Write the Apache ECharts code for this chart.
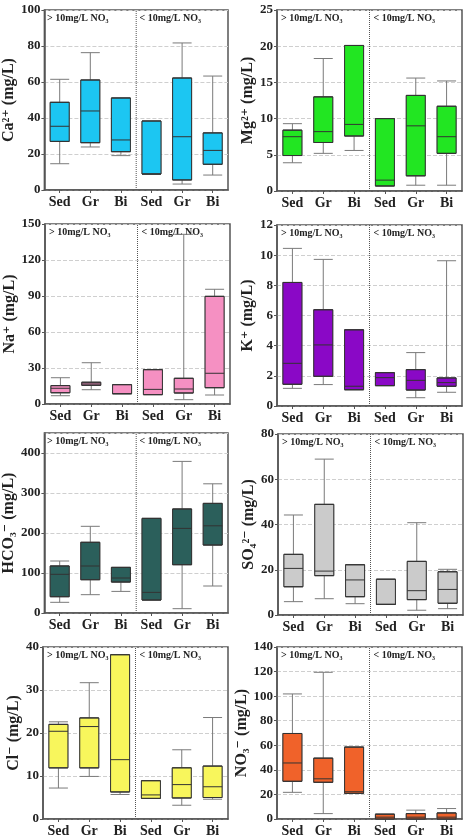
<!DOCTYPE html>
<html>
<head>
<meta charset="utf-8">
<script src="https://cdn.jsdelivr.net/npm/echarts@6/dist/echarts.min.js"></script>
<style>
  html, body { margin: 0; padding: 0; background: #fff; }
  #chart { width: 468px; height: 838px; }
</style>
</head>
<body>
<div id="chart"></div>
<script>
// categories: three lithologies for >10 and <10 mg/L NO3
const categories = ['Sed', 'Gr', 'Bi', 'Sed', 'Gr', 'Bi']

// each row: [min, Q1, median, Q3, max]
const ca = [
  [14.6, 27.0, 35.4, 48.7, 61.5],
  [23.9, 26.3, 43.9, 61.1, 76.3],
  [19.1, 21.3, 27.8, 51.1, 51.1],
  [8.9, 8.9, 8.9, 38.3, 38.3],
  [3.3, 5.6, 29.6, 62.2, 81.7],
  [8.3, 14.3, 22.0, 31.7, 63.3]
]
const mg = [
  [3.9, 4.9, 7.5, 8.4, 9.3],
  [5.2, 6.7, 8.2, 13.0, 18.3],
  [5.6, 7.6, 9.2, 20.1, 20.1],
  [0.7, 0.7, 1.5, 10.0, 10.0],
  [0.8, 2.1, 9.0, 13.2, 15.6],
  [0.8, 5.2, 7.5, 11.7, 15.2]
]
const na = [
  [6.9, 9.4, 13.1, 15.3, 21.9],
  [11.9, 15.6, 16.7, 18.1, 34.4],
  [8.6, 8.6, 8.6, 16.1, 16.1],
  [7.8, 7.8, 12.2, 28.6, 28.6],
  [3.6, 9.2, 12.5, 21.4, 141.4],
  [7.5, 13.6, 25.6, 89.7, 95.6]
]
const k = [
  [1.17, 1.44, 2.83, 8.19, 10.45],
  [1.42, 1.97, 4.05, 6.38, 9.72],
  [1.08, 1.08, 1.31, 5.05, 5.05],
  [1.35, 1.35, 1.88, 2.21, 2.21],
  [0.55, 1.06, 1.70, 2.41, 3.54],
  [0.91, 1.31, 1.55, 1.86, 9.63]
]
const hco3 = [
  [26.7, 40.8, 96.7, 117.5, 130],
  [45.8, 83.3, 117.5, 176.7, 216.7],
  [54, 77.5, 87.5, 114, 114],
  [32.5, 32.5, 51.6, 236.5, 236.5],
  [10.8, 120.8, 211.5, 260, 379],
  [67.5, 170, 218, 274, 323]
]
const so4 = [
  [5.9, 12.5, 20.6, 26.8, 44.2],
  [7.2, 17.4, 19.4, 48.9, 68.9],
  [5.0, 8.1, 15.5, 22.2, 22.2],
  [4.7, 4.7, 4.7, 15.8, 15.8],
  [2.1, 6.8, 10.75, 23.7, 40.8],
  [2.8, 5.2, 11.3, 19.1, 20.2]
]
const cl = [
  [7.2, 11.9, 20.4, 22.0, 22.6],
  [9.9, 11.9, 21.5, 23.5, 31.7],
  [5.7, 6.3, 13.8, 38.2, 38.2],
  [4.8, 4.8, 5.6, 8.9, 8.9],
  [3.2, 4.9, 8.0, 11.9, 16.1],
  [4.6, 5.0, 7.5, 12.3, 23.6]
]
const no3 = [
  [21.7, 30.7, 45.6, 69.6, 101.8],
  [4.4, 29.9, 32.7, 49.5, 119.4],
  [20.9, 20.9, 22.2, 58.5, 58.5],
  [0, 0, 1.5, 3.9, 3.9],
  [0, 0, 1.5, 4.4, 7.2],
  [0, 0, 1.5, 4.9, 8.5]
]

const groupLabels = ['> 10mg/L NO\u2083', '< 10mg/L NO\u2083']

const serif = "'Liberation Serif', 'DejaVu Serif', serif"
const frame = '#555'

const panels = [
  { name: 'Ca\u00b2\u207a (mg/L)', data: ca, max: 100, interval: 20, color: '#1cc6f2', left: 43, top: 10, height: 180 },
  { name: 'Mg\u00b2\u207a (mg/L)', data: mg, max: 25, interval: 5, color: '#22e622', left: 277, top: 10, height: 181 },
  { name: 'Na\u207a (mg/L)', data: na, max: 150, interval: 30, color: '#f590c2', left: 45, top: 224, height: 180 },
  { name: 'K\u207a (mg/L)', data: k, max: 12, interval: 2, color: '#8a08c6', left: 277, top: 225, height: 181 },
  { name: 'HCO\u2083\u207b (mg/L)', data: hco3, max: 450, interval: 100, hideMax: true, color: '#2b5f5b', left: 43, top: 433, height: 180 },
  { name: 'SO\u2084\u00b2\u207b (mg/L)', data: so4, max: 80, interval: 20, color: '#cbcbcb', left: 278, top: 434, height: 181 },
  { name: 'Cl\u207b (mg/L)', data: cl, max: 40, interval: 10, color: '#f8f65c', left: 43, top: 647, height: 181 },
  { name: 'NO\u2083\u207b (mg/L)', data: no3, max: 140, interval: 20, color: '#f0622a', left: 277, top: 647, height: 181 }
]

const width = 185
const grid = [], xAxis = [], yAxis = [], series = [], graphic = []

panels.forEach((p, i) => {
  grid.push({
    left: p.left, top: p.top, width: width, height: p.height,
    show: true, borderColor: frame, borderWidth: 1.5
  })
  xAxis.push({
    type: 'category', gridIndex: i, data: categories,
    axisLine: { onZero: false, lineStyle: { color: frame, width: 1.5 } },
    axisTick: { show: true, alignWithLabel: true, length: 3, lineStyle: { color: frame } },
    axisLabel: { color: '#222', fontFamily: serif, fontWeight: 'bold', fontSize: 14, margin: 5, interval: 0 }
  })
  // hidden value axis used for the group separator
  xAxis.push({ type: 'value', gridIndex: i, min: -0.5, max: 5.5, show: false })
  // hidden twin category axis: boxes drawn again on top with darker outline
  xAxis.push({ type: 'category', gridIndex: i, data: categories, show: false })
  yAxis.push({
    type: 'value', gridIndex: i, min: 0, max: p.max, interval: p.interval,
    name: p.name, nameLocation: 'middle', nameGap: 21,
    nameTextStyle: { color: '#222', fontFamily: serif, fontWeight: 'bold', fontSize: 16 },
    axisLine: { show: true, onZero: false, lineStyle: { color: frame, width: 1.5 } },
    axisTick: { show: true, length: 3, lineStyle: { color: frame } },
    axisLabel: { color: '#222', fontFamily: serif, fontWeight: 'bold', fontSize: 13, margin: 4, showMaxLabel: p.hideMax ? false : null },
    splitLine: { lineStyle: { type: 'dashed', color: '#cfcfcf' } }
  })
  // whiskers (gray)
  series.push({
    type: 'boxplot', xAxisIndex: 3 * i, yAxisIndex: i,
    data: p.data,
    boxWidth: [19, 19],
    itemStyle: { color: p.color, borderColor: '#7a7a7a', borderWidth: 1 },
    silent: true
  })
  // box + median (dark outline), whiskers collapsed onto the box
  series.push({
    type: 'boxplot', xAxisIndex: 3 * i + 2, yAxisIndex: i,
    data: p.data.map(d => [d[1], d[1], d[2], d[3], d[3]]),
    boxWidth: [19, 19],
    itemStyle: { color: p.color, borderColor: '#333', borderWidth: 1 },
    silent: true
  })
  series.push({
    type: 'line', xAxisIndex: 3 * i + 1, yAxisIndex: i,
    data: [[2.5, 0], [2.5, p.max]],
    symbol: 'none', silent: true,
    lineStyle: { type: 'dotted', color: '#555', width: 1 }
  })
  graphic.push({
    type: 'text', left: p.left + 4, top: p.top + 3,
    style: { text: groupLabels[0], font: 'bold 10px ' + serif, fill: '#222' }
  })
  graphic.push({
    type: 'text', left: p.left + width / 2 + 4, top: p.top + 3,
    style: { text: groupLabels[1], font: 'bold 10px ' + serif, fill: '#222' }
  })
})

const myChart = echarts.init(document.getElementById('chart'))
myChart.setOption({
  backgroundColor: '#fff',
  animation: false,
  grid: grid,
  xAxis: xAxis,
  yAxis: yAxis,
  series: series,
  graphic: graphic
})
</script>
</body>
</html>
